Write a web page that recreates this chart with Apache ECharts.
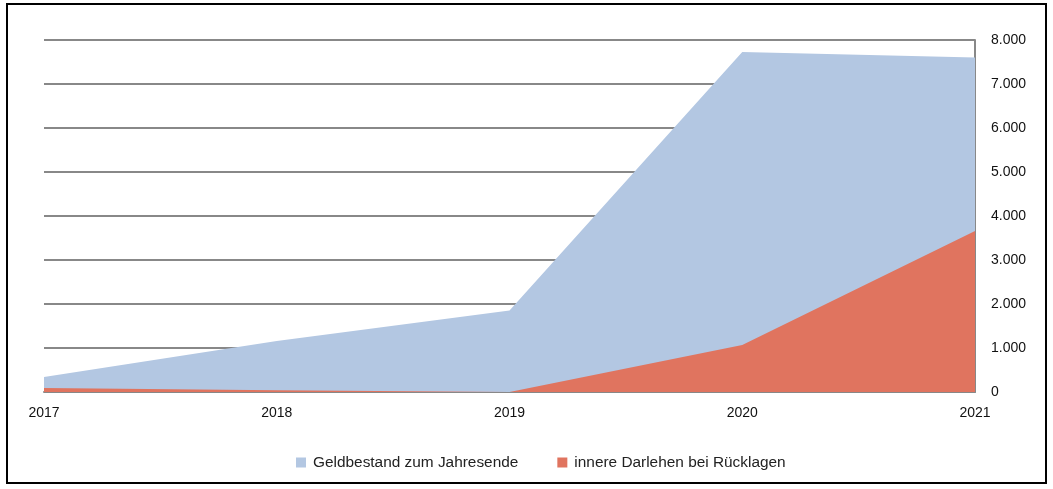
<!DOCTYPE html>
<html><head><meta charset="utf-8">
<script src="https://cdn.jsdelivr.net/npm/echarts@6/dist/echarts.min.js"></script>
<style>
html,body{margin:0;padding:0;background:#fff;}
#frame{position:absolute;left:6px;top:3px;width:1041px;height:481px;border:2px solid #000;box-sizing:border-box;}
#chart{position:absolute;left:0;top:0;width:1053px;height:489px;}
</style></head>
<body>
<div id="frame"></div>
<div id="chart"></div>
<script>
const years = ['2017','2018','2019','2020','2021'];
const geldbestand = [340, 1160, 1850, 7730, 7600];
const darlehen = [90, 40, 0, 1070, 3660];
const yTicks = [0, 1000, 2000, 3000, 4000, 5000, 6000, 7000, 8000];
const seriesNames = ['Geldbestand zum Jahresende', 'innere Darlehen bei Rücklagen'];

const chart = echarts.init(document.getElementById('chart'), null, {renderer:'canvas'});
chart.setOption({
  animation:false,
  backgroundColor:'transparent',
  textStyle:{fontFamily:'Liberation Sans, Arial, sans-serif'},
  grid:{left:44, right:78, top:40, bottom:97, containLabel:false},
  legend:{
    data:seriesNames, top:450, left:291, icon:'rect', itemWidth:10, itemHeight:10, itemGap:39,
    textStyle:{fontSize:15.4, color:'#222', padding:[0,0,0,2], fontFamily:'Liberation Sans, Arial, sans-serif'}
  },
  xAxis:{
    type:'category', data:years, boundaryGap:false,
    axisLine:{lineStyle:{color:'#888', width:2}},
    axisTick:{show:false},
    axisLabel:{fontSize:14, color:'#111', margin:14}
  },
  yAxis:{
    type:'value', position:'right', min:yTicks[0], max:yTicks[yTicks.length-1], interval:1000,
    axisLine:{show:true, lineStyle:{color:'#888', width:2}},
    axisTick:{show:false},
    splitLine:{lineStyle:{color:'#888', width:2}},
    axisLabel:{fontSize:14, color:'#111', margin:16,
      formatter:v=>v===0?'0':(v/1000).toFixed(0)+'.000'}
  },
  series:[
    {name:seriesNames[0], type:'line', data:geldbestand, symbol:'none',
     itemStyle:{color:'#B3C7E2'}, lineStyle:{width:0}, areaStyle:{color:'#B3C7E2', opacity:1}},
    {name:seriesNames[1], type:'line', data:darlehen, symbol:'none',
     itemStyle:{color:'#E0745F'}, lineStyle:{width:0}, areaStyle:{color:'#E0745F', opacity:1}}
  ]
});
</script>
</body></html>
